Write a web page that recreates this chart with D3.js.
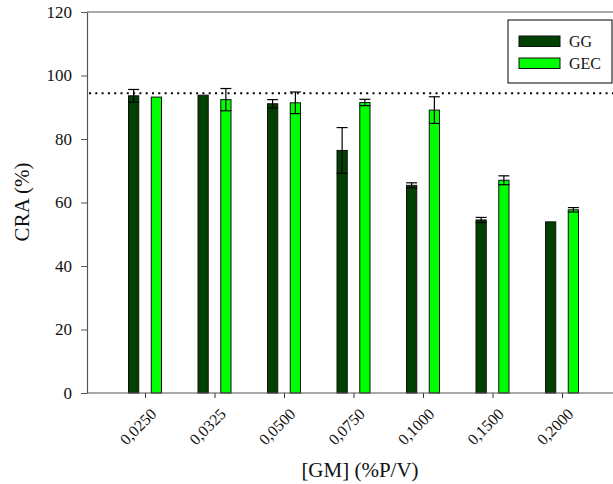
<!DOCTYPE html>
<html>
<head>
<meta charset="utf-8">
<script src="https://cdn.jsdelivr.net/npm/d3@7"></script>
<style>
body { margin: 0; background: #fff; }
text { font-family: "Liberation Serif", "Times New Roman", serif; }
</style>
</head>
<body>
<script>
var svgWidth = 613;
var svgHeight = 484;

// data
var categories = ["0,0250", "0,0325", "0,0500", "0,0750", "0,1000", "0,1500", "0,2000"];
var seriesNames = ["GG", "GEC"];
var ggValues = [93.6, 93.8, 91.1, 76.4, 65.4, 54.5, 53.9];
var ggErrors = [2.0, 0.2, 1.3, 7.2, 0.8, 0.8, 0.1];
var gecValues = [93.2, 92.4, 91.4, 91.5, 89.1, 67.0, 57.7];
var gecErrors = [0.2, 3.5, 3.4, 1.0, 4.2, 1.4, 0.7];
var refLine = 94.4;
var yTicks = [0, 20, 40, 60, 80, 100, 120];
var colors = ["#004000", "#00ff00"];

var plotLeft = 87, plotTop = 12, plotBottom = 393, plotRight = 613;

var svg = d3.select("body")
    .append("svg")
    .attr("width", svgWidth)
    .attr("height", svgHeight);

var x = d3.scalePoint()
    .domain(categories)
    .range([145, 562]);

var inner = d3.scaleBand()
    .domain(seriesNames)
    .range([-16.5, 16.5])
    .paddingInner(0.55);

var y = d3.scaleLinear()
    .domain([0, 120])
    .range([plotBottom, plotTop]);

// top frame line
svg.append("line")
    .attr("x1", plotLeft).attr("x2", plotRight)
    .attr("y1", plotTop).attr("y2", plotTop)
    .attr("stroke", "#555").attr("stroke-width", 1.2);

// bars
var flat = [];
categories.forEach(function (c, i) {
    flat.push({ cat: c, s: "GG", v: ggValues[i], e: ggErrors[i], col: colors[0] });
    flat.push({ cat: c, s: "GEC", v: gecValues[i], e: gecErrors[i], col: colors[1] });
});

svg.selectAll("rect.bar")
    .data(flat)
    .enter()
    .append("rect")
    .attr("class", "bar")
    .attr("x", function (d) { return x(d.cat) + inner(d.s); })
    .attr("y", function (d) { return y(d.v); })
    .attr("width", inner.bandwidth())
    .attr("height", function (d) { return y(0) - y(d.v); })
    .attr("fill", function (d) { return d.col; })
    .attr("stroke", "#111")
    .attr("stroke-width", 1);

// error bars
var err = svg.selectAll("g.err")
    .data(flat.filter(function (d) { return d.e > 0.3; }))
    .enter()
    .append("g")
    .attr("class", "err")
    .attr("transform", function (d) {
        return "translate(" + (x(d.cat) + inner(d.s) + inner.bandwidth() / 2) + ",0)";
    })
    .attr("stroke", "#000")
    .attr("stroke-width", 1.2);
err.append("line")
    .attr("y1", function (d) { return y(d.v + d.e); })
    .attr("y2", function (d) { return y(d.v - d.e); });
err.append("line")
    .attr("x1", -5.5).attr("x2", 5.5)
    .attr("y1", function (d) { return y(d.v + d.e); })
    .attr("y2", function (d) { return y(d.v + d.e); });
err.append("line")
    .attr("x1", -5.5).attr("x2", 5.5)
    .attr("y1", function (d) { return y(d.v - d.e); })
    .attr("y2", function (d) { return y(d.v - d.e); });

// dotted reference line
svg.append("line")
    .attr("x1", plotLeft + 2).attr("x2", plotRight)
    .attr("y1", y(refLine)).attr("y2", y(refLine))
    .attr("stroke", "#000")
    .attr("stroke-width", 2)
    .attr("stroke-dasharray", "2,4.3");

// y axis
var yAxis = svg.append("g")
    .attr("transform", "translate(" + plotLeft + ",0)")
    .call(d3.axisLeft(y).tickValues(yTicks).tickSize(6).tickSizeOuter(0));
yAxis.select(".domain").attr("stroke", "#555").attr("stroke-width", 1.2);
yAxis.selectAll(".tick line").attr("stroke", "#555");
yAxis.selectAll(".tick text")
    .attr("x", -15)
    .attr("font-size", 17)
    .attr("font-family", "Liberation Serif")
    .attr("fill", "#111");

// x axis
var xAxis = svg.append("g")
    .attr("transform", "translate(0," + plotBottom + ")")
    .call(d3.axisBottom(x).tickSize(5).tickSizeOuter(0));
xAxis.select(".domain").remove();
xAxis.append("line")
    .attr("x1", plotLeft).attr("x2", plotRight)
    .attr("stroke", "#555").attr("stroke-width", 1.2);
xAxis.selectAll(".tick line").attr("stroke", "#333");
xAxis.selectAll(".tick text")
    .attr("font-size", 16)
    .attr("font-family", "Liberation Serif")
    .attr("fill", "#111")
    .attr("text-anchor", "end")
    .attr("dy", null)
    .attr("y", 0)
    .attr("transform", "translate(12,22) rotate(-45)");

// axis titles
svg.append("text")
    .attr("x", 360)
    .attr("y", 477)
    .attr("text-anchor", "middle")
    .attr("font-size", 21)
    .attr("fill", "#111")
    .text("[GM] (%P/V)");

svg.append("text")
    .attr("transform", "translate(29,202) rotate(-90)")
    .attr("text-anchor", "middle")
    .attr("font-size", 21)
    .attr("fill", "#111")
    .text("CRA (%)");

// legend
var legend = svg.append("g");
legend.append("rect")
    .attr("x", 508).attr("y", 20)
    .attr("width", 104).attr("height", 63)
    .attr("fill", "#fff")
    .attr("stroke", "#000")
    .attr("stroke-width", 1);
legend.selectAll("rect.sw")
    .data(seriesNames)
    .enter()
    .append("rect")
    .attr("class", "sw")
    .attr("x", 519)
    .attr("y", function (d, i) { return 36 + i * 22; })
    .attr("width", 41)
    .attr("height", 10.5)
    .attr("fill", function (d, i) { return colors[i]; })
    .attr("stroke", "#111");
legend.selectAll("text")
    .data(seriesNames)
    .enter()
    .append("text")
    .attr("x", 569)
    .attr("y", function (d, i) { return 47 + i * 22; })
    .attr("font-size", 16)
    .attr("fill", "#111")
    .text(function (d) { return d; });
</script>
</body>
</html>
